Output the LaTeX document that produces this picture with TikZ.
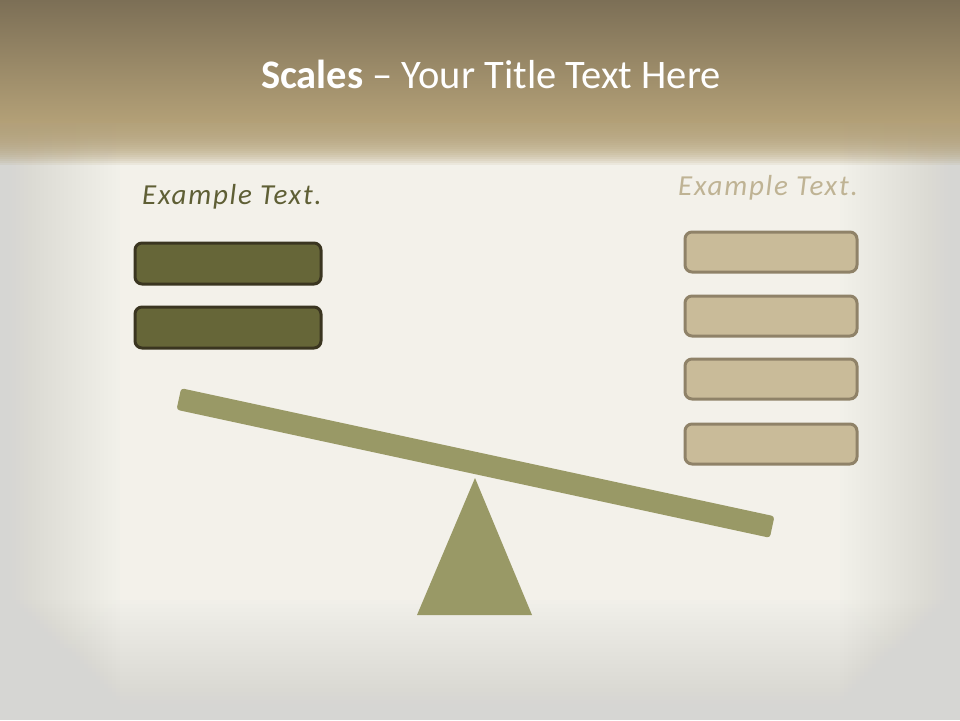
\documentclass[tikz,border=0pt]{standalone}
\usepackage{fontspec}
\setmainfont{Carlito}
\begin{document}
\begin{tikzpicture}[x=1pt,y=-1pt,
  lbox/.style={draw=darkedge,fill=olivefill,line width=3pt,rounded corners=7pt},
  rbox/.style={draw=tanedge,fill=tanfill,line width=3pt,rounded corners=7pt},
  exlabel/.style={font=\fontsize{29}{32}\selectfont\itshape\addfontfeatures{LetterSpace=6},anchor=base west,inner sep=0pt}]
\definecolor{darkedge}{HTML}{3A3520}
\definecolor{olivefill}{HTML}{666638}
\definecolor{tanedge}{HTML}{8F8268}
\definecolor{tanfill}{HTML}{C9BB99}
\definecolor{beam}{HTML}{999966}
\definecolor{paper}{HTML}{F3F1EA}
\definecolor{paperedge}{HTML}{D6D6D3}
\definecolor{bandtop}{HTML}{7C6F56}
\definecolor{bandbot}{HTML}{B3A077}
\definecolor{ltext}{HTML}{5F5F35}
\definecolor{rtext}{HTML}{BFB394}
\useasboundingbox (0,0) rectangle (960,720);
% background
\fill[paper] (0,0) rectangle (960,720);
\foreach \i in {1,...,30} {
  \fill[paperedge,opacity=0.035] (0,0) rectangle (4*\i,720);
  \fill[paperedge,opacity=0.035] (960-4*\i,0) rectangle (960,720);
  \fill[paperedge,opacity=0.04] (0,720-4*\i) rectangle (960,720);
}
\shade[top color=bandtop,bottom color=bandbot] (0,0) rectangle (960,122);
\foreach \i in {1,...,22} {
  \fill[bandbot,opacity=0.12] (0,121) rectangle (960,121+2*\i);
}
% title
\node[anchor=base,text=white,font=\fontsize{40.5}{46}\selectfont,inner sep=0pt] (title) at (491,88) {\textbf{Scales} – Your Title Text Here};
% labels
\node[exlabel,text=ltext] (ltitle) at (142,204) {Example Text.};
\node[exlabel,text=rtext] (rtitle) at (678,195) {Example Text.};
% left boxes
\draw[lbox] (135,243) rectangle (321,284);
\draw[lbox] (135,307) rectangle (321,348);
% right boxes
\draw[rbox] (685,232) rectangle (857,272);
\draw[rbox] (685,296) rectangle (857,336);
\draw[rbox] (685,359) rectangle (857,399);
\draw[rbox] (685,424) rectangle (857,464);
% fulcrum
\fill[beam] (475,478) coordinate (apex) -- (532,615) -- (417,615) -- cycle;
% beam
\node[fill=beam,minimum width=607pt,minimum height=22pt,inner sep=0pt,rounded corners=3pt,rotate=-12.18] (beamnode) at (475.5,463) {};
\end{tikzpicture}
\end{document}
